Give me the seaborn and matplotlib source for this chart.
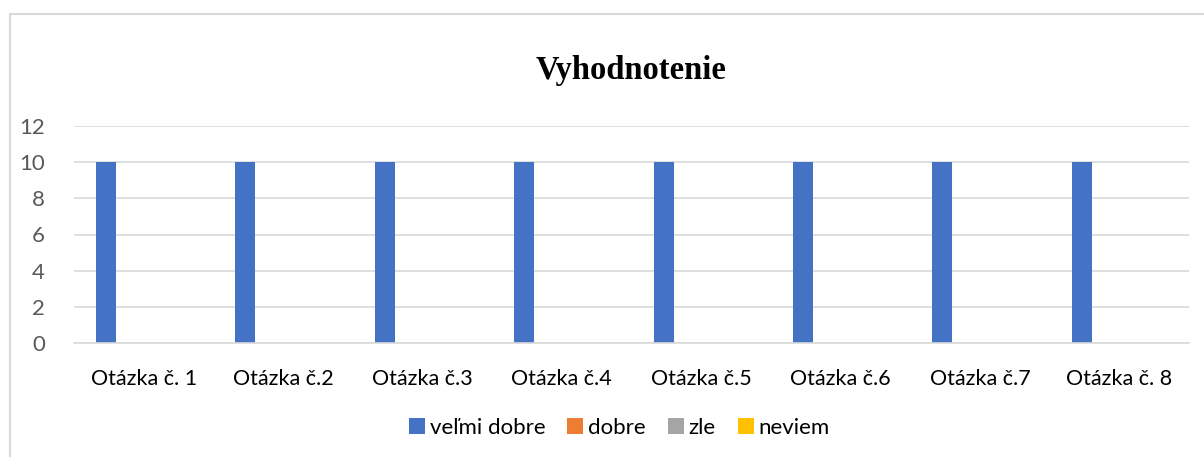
import matplotlib
matplotlib.use("Agg")
import matplotlib.pyplot as plt
import seaborn as sns
import pandas as pd
from matplotlib.patches import Rectangle

categories = ["Otázka č. 1", "Otázka č.2", "Otázka č.3", "Otázka č.4",
              "Otázka č.5", "Otázka č.6", "Otázka č.7", "Otázka č. 8"]
series_names = ["veľmi dobre", "dobre", "zle", "neviem"]
velmi_dobre = [10, 10, 10, 10, 10, 10, 10, 10]
dobre = [0, 0, 0, 0, 0, 0, 0, 0]
zle = [0, 0, 0, 0, 0, 0, 0, 0]
neviem = [0, 0, 0, 0, 0, 0, 0, 0]
colors = ["#4472C4", "#ED7D31", "#A5A5A5", "#FFC000"]
yticks = [0, 2, 4, 6, 8, 10, 12]

rows = []
for name, vals in zip(series_names, [velmi_dobre, dobre, zle, neviem]):
    for c, v in zip(categories, vals):
        rows.append({"cat": c, "series": name, "value": v})
df = pd.DataFrame(rows)

sns.set_theme(style="white")
plt.rcParams["font.family"] = ["Lato", "DejaVu Sans"]

fig = plt.figure(figsize=(12.04, 4.57), dpi=100)
ax = fig.add_axes([74/1204, 1 - 343/457, (1189-74)/1204, (343-126)/457])

sns.barplot(data=df, x="cat", y="value", hue="series", hue_order=series_names,
            order=categories, palette=colors, width=0.72, gap=0.2,
            saturation=1, ax=ax, legend=True, linewidth=0)

ax.set_ylim(0, 12)
ax.set_xlim(-0.5, len(categories) - 0.5)
ax.set_yticks(yticks)
ax.yaxis.grid(True, color="#D9D9D9", linewidth=1.2)
ax.set_axisbelow(True)
for s in ["top", "right", "left"]:
    ax.spines[s].set_visible(False)
ax.spines["bottom"].set_color("#D9D9D9")
ax.spines["bottom"].set_linewidth(1.2)
ax.tick_params(axis="both", length=0)
ax.tick_params(axis="y", labelsize=16, labelcolor="#595959", pad=21)
ax.tick_params(axis="x", labelsize=15.5, labelcolor="#000000", pad=19)
ax.set_xlabel("")
ax.set_ylabel("")

leg = ax.legend(loc="center", bbox_to_anchor=(0.489, -0.39), ncol=4, frameon=False,
                fontsize=16, handlelength=0.72, handleheight=0.72,
                handletextpad=0.2, columnspacing=1.0)
for t in leg.get_texts():
    t.set_color("#000000")

fig.text(631/1204, 1 - 70/457, "Vyhodnotenie", ha="center", va="center",
         fontsize=23.5, fontweight="bold", color="#000000",
         family=["Liberation Serif", "DejaVu Serif"])

fig.patches.append(Rectangle((10/1204, -0.1), 1.2, 1 - 14/457 + 0.1,
                             transform=fig.transFigure, fill=False,
                             edgecolor="#D9D9D9", linewidth=1.5))

fig.savefig("out.png", dpi=100, facecolor="white")
